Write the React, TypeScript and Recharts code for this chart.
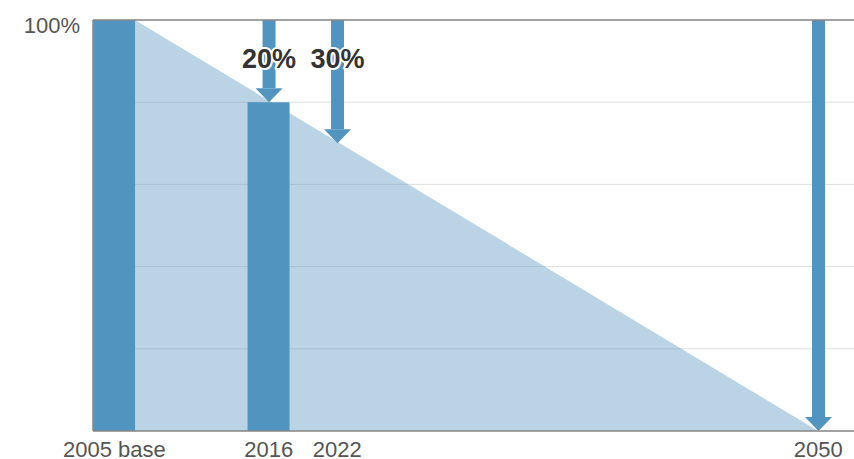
import React from "react";
import {
  ComposedChart,
  Area,
  Bar,
  XAxis,
  YAxis,
  CartesianGrid,
  ReferenceLine,
  LabelList,
} from "recharts";

// Schematic timeline: position of each milestone along the axis (0–100 of axis width)
const categories = ["2005 base", "2016", "2022", "2050"];
const positions = [2.8, 23.1, 32.1, 95.3];
const emissions: (number | null)[] = [100, 80, null, null];
const targets: (number | null)[] = [null, 80, 70, 0];
const reductionLabels = ["", "20%", "30%", ""];

// Reduction pathway (from top of the 2005 base bar down to zero in 2050)
const pathwayX = [5.5, 95.3];
const pathwayY = [100, 0];

const yTicks = [0, 20, 40, 60, 80, 100];

const rows = categories.map((c, i) => ({
  x: positions[i],
  name: c,
  emission: emissions[i],
  target: targets[i],
  label: reductionLabels[i],
}));
const pathwayRows = pathwayX.map((x, i) => ({ x, pathway: pathwayY[i] }));

const BLUE = "#5294c0";
const FONT = "'Liberation Sans', Arial, Helvetica, sans-serif";

const arrowKey = (d: any) => (d.target == null ? null : [d.target, 100]);

const ArrowShape = (props: any) => {
  const { x, y, width, height } = props;
  if (x == null || height == null || height <= 0) return null;
  const cx = x + width / 2;
  const headH = 14;
  const shaftW = 13;
  const bottom = y + height;
  return (
    <g>
      <rect x={cx - shaftW / 2} y={y} width={shaftW} height={Math.max(0, height - headH)} fill={BLUE} />
      <polygon
        points={`${cx - width / 2},${bottom - headH} ${cx + width / 2},${bottom - headH} ${cx},${bottom}`}
        fill={BLUE}
      />
    </g>
  );
};

const ReductionLabel = (props: any) => {
  const { x, y, width, value } = props;
  if (!value) return null;
  return (
    <text
      x={x + width / 2}
      y={y + 48}
      textAnchor="middle"
      fontFamily={FONT}
      fontWeight="bold"
      fontSize={27}
      fill="#333333"
      stroke="#ffffff"
      strokeWidth={4}
      strokeLinejoin="round"
      paintOrder="stroke"
    >
      {value}
    </text>
  );
};

const XTick = (props: any) => {
  const { x, y, payload } = props;
  const idx = positions.indexOf(payload.value);
  const text = idx >= 0 ? categories[idx] : "";
  return (
    <text x={x} y={y + 26} textAnchor="middle" fontFamily={FONT} fontSize={22} fill="#555555">
      {text}
    </text>
  );
};

const YTick = (props: any) => {
  const { x, y, payload } = props;
  if (payload.value !== 100) return null;
  return (
    <text x={x} y={y + 13} textAnchor="end" fontFamily={FONT} fontSize={22} fill="#555555">
      {`${payload.value}%`}
    </text>
  );
};

export default function App() {
  return (
    <div style={{ position: "absolute", left: 0, top: 0, width: 854, height: 459, background: "#fff" }}>
      <ComposedChart
        width={854}
        height={459}
        data={rows}
        margin={{ top: 20, right: 0, bottom: 0, left: 0 }}
      >
        <CartesianGrid xAxisId="main" vertical={false} stroke="#e0e0e0" />
        <XAxis
          xAxisId="main"
          dataKey="x"
          type="number"
          domain={[0, 100]}
          ticks={positions}
          interval={0}
          height={28}
          tickLine={false}
          tickSize={0}
          tickMargin={0}
          axisLine={{ stroke: "#888888", strokeWidth: 1.5 }}
          tick={<XTick />}
        />
        <XAxis xAxisId="arrows" dataKey="x" type="number" domain={[0, 100]} height={0} hide />
        <XAxis xAxisId="area" dataKey="x" type="number" domain={[0, 100]} height={0} hide />
        <YAxis
          type="number"
          domain={[0, 100]}
          ticks={yTicks}
          width={93}
          tickLine={false}
          tickSize={0}
          tickMargin={13}
          axisLine={{ stroke: "#888888", strokeWidth: 1.5 }}
          tick={<YTick />}
        />
        <Area
          xAxisId="area"
          data={pathwayRows}
          dataKey="pathway"
          type="linear"
          fill={BLUE}
          fillOpacity={0.4}
          stroke="none"
          connectNulls
          isAnimationActive={false}
        />
        <Bar xAxisId="main" dataKey="emission" fill={BLUE} barSize={42} isAnimationActive={false} />
        <Bar
          xAxisId="arrows"
          dataKey={arrowKey}
          barSize={27}
          shape={<ArrowShape />}
          isAnimationActive={false}
        >
          <LabelList dataKey="label" content={<ReductionLabel />} />
        </Bar>
        <ReferenceLine xAxisId="main" y={100} stroke="#888888" strokeWidth={1.5} />
      </ComposedChart>
    </div>
  );
}
